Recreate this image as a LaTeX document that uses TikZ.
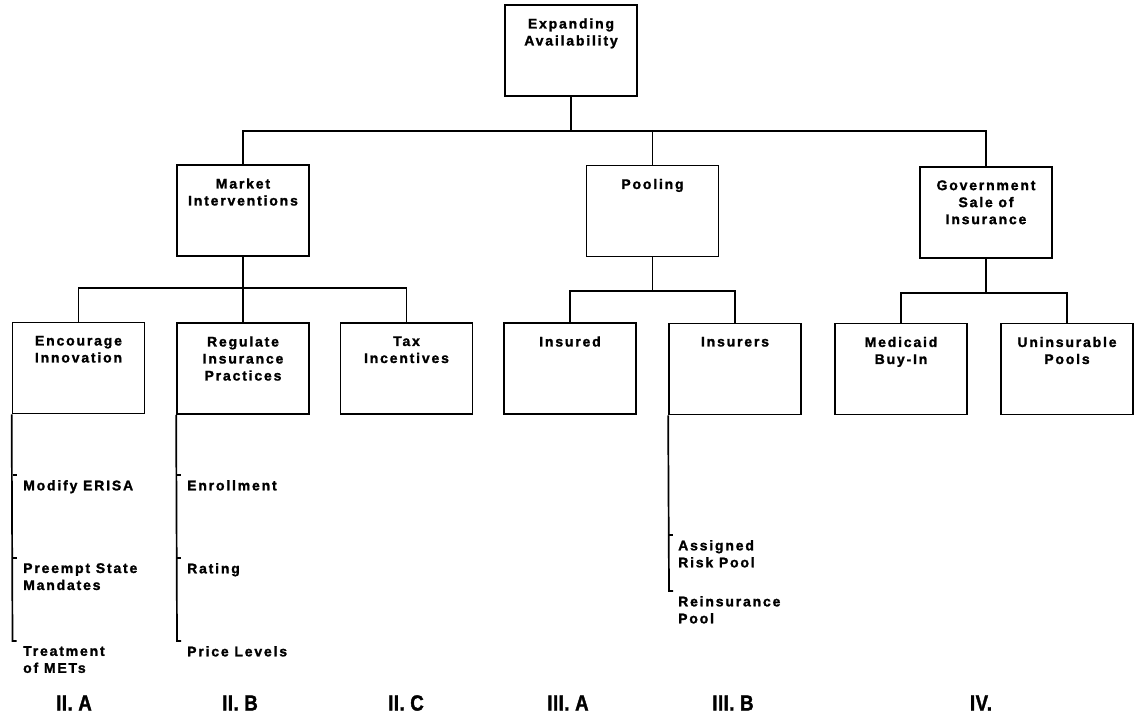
\documentclass[tikz,border=0pt]{standalone}
\usepackage{fontspec}
\newfontfamily\chartfont[LetterSpace=13,FakeBold=1.5]{Liberation Sans Bold}
\newfontfamily\secfont[LetterSpace=2,FakeStretch=0.85,FakeBold=1.5]{Liberation Sans Bold}
\begin{document}
\begin{tikzpicture}[x=1pt,y=-1pt,
  box/.style={draw, line width=1.7pt, minimum width=132pt, minimum height=91pt, inner sep=0pt},
  boxtxt/.style={font={\chartfont\fontsize{14}{17}\selectfont}, align=center, inner sep=0pt, anchor=north},
  item/.style={font={\chartfont\fontsize{14}{17}\selectfont}, align=left, inner sep=0pt, anchor=north west},
  sec/.style={font={\secfont\fontsize{22}{24}\selectfont}, inner sep=0pt},
  conn/.style={line width=1.7pt}]
\useasboundingbox (0,0) rectangle (1135,725);

% boxes
\node[box] (top)  at (571,50.5) {};
\node[box] (mi)   at (243,210.5) {};
\node[box] (pool) at (652.5,211) {};
\node[box] (gov)  at (986,212.5) {};
\node[box] (enc)  at (78.5,368) {};
\node[box] (reg)  at (243,368.5) {};
\node[box] (tax)  at (406.5,368.5) {};
\node[box] (ins)  at (570,368.5) {};
\node[box] (insr) at (735,369) {};
\node[box] (med)  at (901,369) {};
\node[box] (unin) at (1067,369) {};

% box texts
\node[boxtxt] (topt)  at ([yshift=-14pt]top.north)  {Expanding\\Availability};
\node[boxtxt] (mit)   at ([yshift=-14pt]mi.north)   {Market\\Interventions};
\node[boxtxt] (poolt) at ([yshift=-14pt]pool.north) {Pooling};
\node[boxtxt] (govt)  at ([yshift=-14pt]gov.north)  {Government\\Sale of\\Insurance};
\node[boxtxt] (enct)  at ([yshift=-14pt]enc.north)  {Encourage\\Innovation};
\node[boxtxt] (regt)  at ([yshift=-14pt]reg.north)  {Regulate\\Insurance\\Practices};
\node[boxtxt] (taxt)  at ([yshift=-14pt]tax.north)  {Tax\\Incentives};
\node[boxtxt] (inst)  at ([yshift=-14pt]ins.north)  {Insured};
\node[boxtxt] (insrt) at ([yshift=-14pt]insr.north) {Insurers};
\node[boxtxt] (medt)  at ([yshift=-14pt]med.north)  {Medicaid\\Buy-In};
\node[boxtxt] (unint) at ([yshift=-14pt]unin.north) {Uninsurable\\Pools};

% bus coordinates
\coordinate (b1) at (571,131);
\coordinate (b2) at (243,288);
\coordinate (b3) at (652.5,291);
\coordinate (b4) at (986,293);

% tree connectors
\draw[conn] (top.south) -- (b1);
\draw[conn] (mi.north) |- (b1) -| (gov.north);
\draw[conn] (pool.north) -- (pool.north |- b1);
\draw[conn] (mi.south) -- (b2);
\draw[conn] (enc.north) |- (b2) -| (tax.north);
\draw[conn] (reg.north) -- (b2);
\draw[conn] (pool.south) -- (b3);
\draw[conn] (ins.north) |- (b3) -| (insr.north);
\draw[conn] (gov.south) -- (b4);
\draw[conn] (med.north) |- (b4) -| (unin.north);

% list ticks
\coordinate (e1) at (12.5,475);
\coordinate (e2) at (12.5,558);
\coordinate (e3) at (12.5,641);
\coordinate (r1) at (177,475);
\coordinate (r2) at (177,558);
\coordinate (r3) at (177,641);
\coordinate (s1) at (669,535);
\coordinate (s2) at (669,591);

\draw[conn] (enc.south west) -- (e3) -- ++(4,0);
\draw[conn] (e1) -- ++(4,0);
\draw[conn] (e2) -- ++(4,0);
\draw[conn] (reg.south west) -- (r3) -- ++(4,0);
\draw[conn] (r1) -- ++(4,0);
\draw[conn] (r2) -- ++(4,0);
\draw[conn] (insr.south west) -- (s2) -- ++(4,0);
\draw[conn] (s1) -- ++(4,0);

% list items
\node[item] (e1t) at (23,480) {Modify ERISA};
\node[item] (e2t) at (23,563) {Preempt State\\Mandates};
\node[item] (e3t) at (23,646) {Treatment\\of METs};
\node[item] (r1t) at (187,480) {Enrollment};
\node[item] (r2t) at (187,563) {Rating};
\node[item] (r3t) at (187,646) {Price Levels};
\node[item] (s1t) at (678,540) {Assigned\\Risk Pool};
\node[item] (s2t) at (678,596) {Reinsurance\\Pool};

% section labels
\node[sec] (la) at (74,703) {II. A};
\node[sec] (lb) at (240,703) {II. B};
\node[sec] (lc) at (406,703) {II. C};
\node[sec] (ld) at (568,703) {III. A};
\node[sec] (le) at (733,703) {III. B};
\node[sec] (lf) at (981,703) {IV.};
\end{tikzpicture}
\end{document}
